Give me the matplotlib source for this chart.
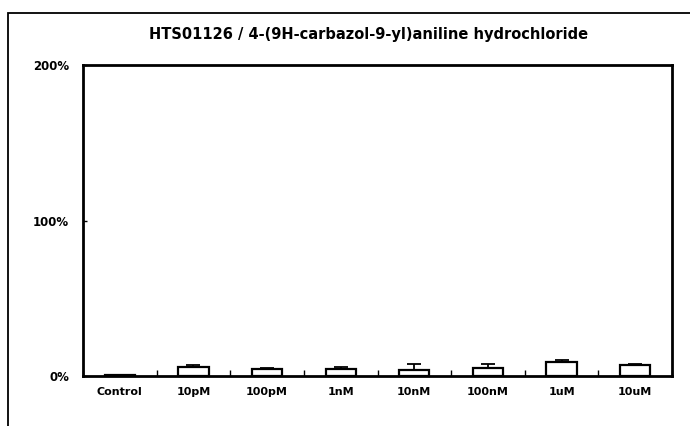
import matplotlib
matplotlib.use("Agg")
import matplotlib.pyplot as plt
import numpy as np
from matplotlib.patches import Rectangle

categories = ["Control", "10pM", "100pM", "1nM", "10nM", "100nM", "1uM", "10uM"]
values = [0.5, 5.8, 4.5, 4.5, 4.0, 5.0, 9.0, 7.0]
err_up = [0.3, 1.2, 0.6, 1.0, 3.5, 3.0, 1.0, 0.6]
yticks = [0, 100, 200]
yticklabels = ["0%", "100%", "200%"]
title = "HTS01126 / 4-(9H-carbazol-9-yl)aniline hydrochloride"

W, H = 690, 426
fig = plt.figure(figsize=(W / 100, H / 100), dpi=100)
fig.patch.set_facecolor("white")

# outer frame (scanned page border)
fig.add_artist(Rectangle((8 / W, -0.05), 1.2, 1 - 13 / H + 0.05, transform=fig.transFigure,
                         fill=False, edgecolor="black", lw=1.3))

ax = fig.add_axes([83 / W, 1 - 376 / H, (672 - 83) / W, (376 - 65) / H])
x = np.arange(len(categories))
ax.bar(x, values, width=0.41, color="white", edgecolor="black", linewidth=1.6, zorder=3)
ax.errorbar(x, values, yerr=[np.zeros(len(err_up)), err_up], fmt="none",
            ecolor="black", elinewidth=1.3, capsize=5, capthick=1.3, zorder=4)

ax.set_xlim(-0.5, len(categories) - 0.5)
ax.set_ylim(0, 200)
ax.set_yticks(yticks)
ax.set_yticklabels(yticklabels, fontsize=8.5, fontweight="bold", family="DejaVu Sans")
ax.set_xticks(x)
ax.set_xticklabels(categories, fontsize=8, fontweight="bold", family="DejaVu Sans")
ax.set_xticks(np.arange(len(categories) + 1) - 0.5, minor=True)
ax.tick_params(axis="x", which="major", length=0, pad=8)
ax.tick_params(axis="x", which="minor", length=4, direction="in", width=1)
ax.tick_params(axis="y", which="major", length=3, direction="in", width=1, pad=10)
for s in ax.spines.values():
    s.set_linewidth(2)

fig.text(369 / W, 1 - 34 / H, title, ha="center", va="center", fontsize=10.5,
         fontweight="bold", family="DejaVu Sans")

fig.savefig("out.png", dpi=100, facecolor="white")
